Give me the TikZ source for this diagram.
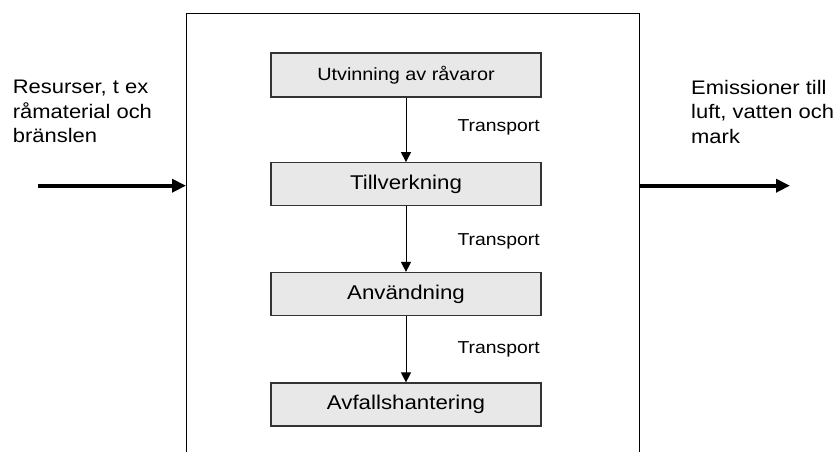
\documentclass[tikz,border=0pt]{standalone}
\usepackage{fontspec}
\setmainfont[FakeStretch=1.12]{Liberation Sans}
\usetikzlibrary{positioning,arrows.meta}

\definecolor{stegfyll}{HTML}{E8E8E8}
\definecolor{stegkant}{HTML}{333333}

\begin{document}
\begin{tikzpicture}[x=1pt,y=-1pt,
	stegbox/.style={draw=stegkant,fill=stegfyll,line width=1.2pt,
		minimum width=270pt,minimum height=43pt,inner sep=0pt,
		font=\fontsize{19.9}{24}\selectfont},
	transp/.style={inner sep=0pt,font=\fontsize{17.3}{20}\selectfont},
	sidtext/.style={inner sep=0pt,align=left,anchor=north west,
		font=\fontsize{19.6}{24.5}\selectfont},
	flode/.style={line width=4pt,-{Triangle[length=14pt,width=13pt]}},
	steg/.style={line width=1pt,-{Triangle[length=10pt,width=10pt]}}]
		
		\useasboundingbox (0,0) rectangle (839,452);
		
		\coordinate (ramA) at (186,452);
		\coordinate (ramB) at (186,14);
		\coordinate (ramC) at (639,14);
		\coordinate (ramD) at (639,452);
		
		\draw[line width=1pt] (ramA)--(ramB)--(ramC)--(ramD);
		
		\node[stegbox,minimum height=44pt,font=\fontsize{17.7}{21}\selectfont]
		(utv) at (406,75) {Utvinning av råvaror};
		\node[stegbox] (till) at (406,184.2) {Tillverkning};
		\node[stegbox] (anv) at (406,294) {Användning};
		\node[stegbox] (avf) at (406,404.5) {Avfallshantering};
		
		\draw[steg] (utv)--(till)
		node[midway,transp,right=51pt,yshift=3pt] (tr1) {Transport};
		\draw[steg] (till)--(anv)
		node[midway,transp,right=51pt,yshift=-2pt] (tr2) {Transport};
		\draw[steg] (anv)--(avf)
		node[midway,transp,right=51pt] (tr3) {Transport};
		
		% flöden in och ut
		\coordinate (in) at (38,185.7);
		\coordinate (ut) at (790,185.7);
		\coordinate (vanster) at (186,185.7);
		\coordinate (hoger) at (639,185.7);
		
		\draw[flode] (in)--(vanster);
		\draw[flode] (hoger)--(ut);
		
		\node[sidtext] (resurser) at (12.7,80)
		{Resurser, t ex\\råmaterial och\\bränslen};
		\node[sidtext] (emission) at (691,80)
		{Emissioner till\\luft, vatten och\\mark};
		
	\end{tikzpicture}
\end{document}
